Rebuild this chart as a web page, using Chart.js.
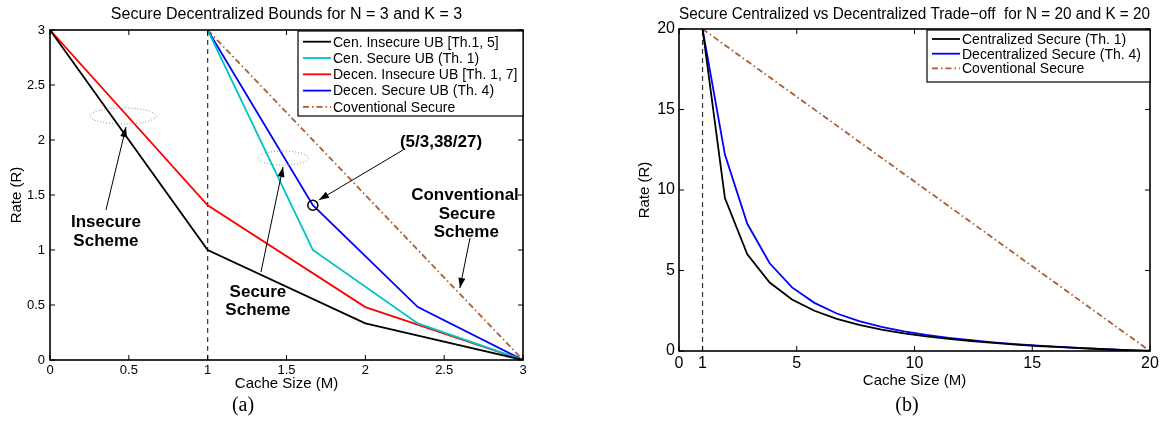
<!DOCTYPE html>
<html>
<head>
<meta charset="utf-8">
<script src="https://cdn.jsdelivr.net/npm/chart.js@4.4.1/dist/chart.umd.min.js"></script>
<style>
  body { margin: 0; background: #fff; width: 1167px; height: 443px; position: relative; overflow: hidden; }
  canvas { position: absolute; top: 0; }
  #chartA { left: 0; }
  #chartB { left: 600px; }
  .cap { position: absolute; top: 393px; font: 20px 'Liberation Serif', 'Times New Roman', serif; transform: translateX(-50%); }
</style>
</head>
<body>
<canvas id="chartA" width="580" height="443"></canvas>
<canvas id="chartB" width="567" height="443"></canvas>
<div class="cap" style="left:243px">(a)</div>
<div class="cap" style="left:907px">(b)</div>
<script>
const FONT = "'Liberation Sans', Arial, sans-serif";

// (a) N = 3, K = 3
const memA = [0, 1, 2, 3];
const memSecA = [1, 1.667, 2.333, 3];
const cenInsecureA = [3, 1, 0.333, 0];
const cenSecureA = [3, 1, 0.333, 0];
const decInsecureA = [3, 1.407, 0.481, 0];
const decSecureA = [3, 1.407, 0.481, 0];
const convMemA = [1, 3];
const convSecureA = [3, 0];
const markMem = [1, 1];
const markRateA = [0, 3];
const ticksA = [0, 0.5, 1, 1.5, 2, 2.5, 3];

// (b) N = 20, K = 20
const memB = [1, 1.95, 2.9, 3.85, 4.8, 5.75, 6.7, 7.65, 8.6, 9.55, 10.5,
              11.45, 12.4, 13.35, 14.3, 15.25, 16.2, 17.15, 18.1, 19.05, 20];
const cenSecureB = [20, 9.5, 6, 4.25, 3.2, 2.5, 2, 1.63, 1.33, 1.1, 0.91,
                    0.75, 0.62, 0.5, 0.4, 0.31, 0.24, 0.17, 0.11, 0.05, 0];
const decSecureB = [20, 12.2, 7.9, 5.45, 3.95, 2.99, 2.33, 1.86, 1.5, 1.22, 1.0,
                    0.82, 0.67, 0.54, 0.43, 0.33, 0.25, 0.18, 0.11, 0.05, 0];
const convMemB = [1, 20];
const convSecureB = [20, 0];
const markRateB = [0, 20];
const xTicksB = [0, 1, 5, 10, 15, 20];
const yTicksB = [0, 5, 10, 15, 20];

const BROWN = 'rgb(172,92,50)';
const DASHDOT = [6, 3, 1.5, 3];

function pts(xs, ys) {
  return xs.map((x, i) => ({ x: x, y: ys[i] }));
}

function line(label, xs, ys, color, dash, inLegend) {
  return {
    label: label,
    data: pts(xs, ys),
    showLine: true,
    borderColor: color,
    backgroundColor: color,
    borderWidth: dash && dash.length === 2 ? 1.2 : 1.8,
    borderDash: dash || [],
    pointRadius: 0,
    tension: 0,
    inLegend: inLegend !== false
  };
}

function arrow(ctx, x1, y1, x2, y2) {
  const a = Math.atan2(y2 - y1, x2 - x1);
  ctx.beginPath();
  ctx.moveTo(x1, y1);
  ctx.lineTo(x2, y2);
  ctx.stroke();
  ctx.beginPath();
  ctx.moveTo(x2, y2);
  ctx.lineTo(x2 - 10 * Math.cos(a) + 3.5 * Math.sin(a), y2 - 10 * Math.sin(a) - 3.5 * Math.cos(a));
  ctx.lineTo(x2 - 10 * Math.cos(a) - 3.5 * Math.sin(a), y2 - 10 * Math.sin(a) + 3.5 * Math.cos(a));
  ctx.closePath();
  ctx.fill();
}

// MATLAB style box with inward ticks on all four sides
const frame = {
  id: 'frame',
  afterDatasetsDraw(chart) {
    const { ctx, chartArea: a, scales } = chart;
    const len = 5;
    ctx.save();
    ctx.strokeStyle = '#000';
    ctx.lineWidth = 1;
    ctx.beginPath();
    scales.x.ticks.forEach(t => {
      const px = scales.x.getPixelForValue(t.value);
      ctx.moveTo(px, a.bottom); ctx.lineTo(px, a.bottom - len);
      ctx.moveTo(px, a.top); ctx.lineTo(px, a.top + len);
    });
    scales.y.ticks.forEach(t => {
      const py = scales.y.getPixelForValue(t.value);
      ctx.moveTo(a.left, py); ctx.lineTo(a.left + len, py);
      ctx.moveTo(a.right, py); ctx.lineTo(a.right - len, py);
    });
    ctx.stroke();
    ctx.lineWidth = 1.6;
    ctx.strokeRect(a.left, a.top, a.right - a.left, a.bottom - a.top);
    ctx.restore();
  }
};

// legend box in the upper right corner of the axes
const boxLegend = {
  id: 'boxLegend',
  afterDraw(chart, args, o) {
    const { ctx, chartArea: a } = chart;
    const left = a.right - o.width;
    const top = a.top + 1;
    ctx.save();
    ctx.fillStyle = '#fff';
    ctx.fillRect(left, top, o.width, o.height);
    ctx.strokeStyle = '#000';
    ctx.lineWidth = 1.2;
    ctx.strokeRect(left, top, o.width, o.height);
    ctx.font = o.size + 'px ' + FONT;
    ctx.textBaseline = 'middle';
    let y = top + o.first;
    chart.data.datasets.filter(d => d.inLegend).forEach(d => {
      ctx.strokeStyle = d.borderColor;
      ctx.lineWidth = d.borderWidth;
      ctx.setLineDash(d.borderDash);
      ctx.beginPath();
      ctx.moveTo(left + 5, y);
      ctx.lineTo(left + 33, y);
      ctx.stroke();
      ctx.setLineDash([]);
      ctx.fillStyle = '#000';
      ctx.fillText(d.label, left + 35, y + 1);
      y += o.gap;
    });
    ctx.restore();
  }
};

// callouts of panel (a), placed in data coordinates
const notesA = {
  id: 'notesA',
  afterDatasetsDraw(chart) {
    const { ctx, scales } = chart;
    const X = v => scales.x.getPixelForValue(v);
    const Y = v => scales.y.getPixelForValue(v);
    ctx.save();
    ctx.strokeStyle = '#888';
    ctx.lineWidth = 1;
    ctx.setLineDash([1, 2]);
    ctx.beginPath();
    ctx.ellipse(X(0.463), Y(2.218), 33, 8, 0, 0, 2 * Math.PI);
    ctx.stroke();
    ctx.beginPath();
    ctx.ellipse(X(1.478), Y(1.836), 25, 7, 0, 0, 2 * Math.PI);
    ctx.stroke();
    ctx.setLineDash([]);

    // circled point (5/3, 38/27) on the decentralized secure curve
    ctx.strokeStyle = '#000';
    ctx.fillStyle = '#000';
    ctx.lineWidth = 1.5;
    ctx.beginPath();
    ctx.arc(X(memSecA[1]), Y(decSecureA[1]), 5, 0, 2 * Math.PI);
    ctx.stroke();

    ctx.lineWidth = 1;
    arrow(ctx, X(0.355), Y(1.364), X(0.482), Y(2.118));
    arrow(ctx, X(1.338), Y(0.8), X(1.478), Y(1.755));
    arrow(ctx, X(2.239), Y(1.909), X(1.706), Y(1.455));
    arrow(ctx, X(2.664), Y(1.109), X(2.6), Y(0.655));

    ctx.font = 'bold 17px ' + FONT;
    ctx.textAlign = 'center';
    ctx.textBaseline = 'middle';
    ctx.fillText('Insecure', X(0.355), Y(1.255));
    ctx.fillText('Scheme', X(0.355), Y(1.082));
    ctx.fillText('Secure', X(1.319), Y(0.618));
    ctx.fillText('Scheme', X(1.319), Y(0.455));
    ctx.fillText('(5/3,38/27)', X(2.48), Y(1.982));
    ctx.fillText('Conventional', X(2.632), Y(1.5));
    ctx.fillText('Secure', X(2.645), Y(1.327));
    ctx.fillText('Scheme', X(2.64), Y(1.164));
    ctx.restore();
  }
};

function tickFont(size) {
  return { family: FONT, size: size };
}

const plain = v => String(v);

new Chart(document.getElementById('chartA'), {
  type: 'scatter',
  data: {
    datasets: [
      line('Cen. Insecure UB [Th.1, 5]', memA, cenInsecureA, '#000'),
      line('Cen. Secure UB (Th. 1)', memSecA, cenSecureA, '#00c4c4'),
      line('Decen. Insecure UB [Th. 1, 7]', memA, decInsecureA, '#ff0000'),
      line('Decen. Secure UB (Th. 4)', memSecA, decSecureA, '#0000ff'),
      line('Coventional Secure', convMemA, convSecureA, BROWN, DASHDOT),
      line('_mark', markMem, markRateA, '#333', [5, 4], false)
    ]
  },
  options: {
    responsive: false,
    animation: false,
    layout: { padding: { left: 0, right: 57, top: 0, bottom: 0 } },
    plugins: {
      legend: { display: false },
      tooltip: { enabled: false },
      title: {
        display: true,
        fullSize: false,
        text: 'Secure Decentralized Bounds for N = 3 and K = 3',
        color: '#000',
        font: { family: FONT, size: 16, weight: 'normal' },
        padding: { top: 5, bottom: 5.8 }
      },
      boxLegend: { width: 225, height: 85, first: 10.7, gap: 16.3, size: 14 }
    },
    scales: {
      x: {
        type: 'linear', min: 0, max: 3,
        afterBuildTicks: s => { s.ticks = ticksA.map(v => ({ value: v })); },
        afterFit: s => { s.height = 83; },
        grid: { display: false, drawTicks: false },
        border: { display: false },
        ticks: { color: '#000', font: tickFont(13), padding: 3, maxRotation: 0, callback: plain },
        title: { display: true, text: 'Cache Size (M)', color: '#000', font: tickFont(15), padding: { top: 0, bottom: 50 } }
      },
      y: {
        type: 'linear', min: 0, max: 3,
        afterBuildTicks: s => { s.ticks = ticksA.map(v => ({ value: v })); },
        afterFit: s => { s.width = 50; },
        grid: { display: false, drawTicks: false },
        border: { display: false },
        ticks: { color: '#000', font: tickFont(13), padding: 5, callback: plain },
        title: { display: true, text: 'Rate (R)', color: '#000', font: tickFont(15), padding: { top: 8, bottom: 0 } }
      }
    }
  },
  plugins: [frame, boxLegend, notesA]
});

new Chart(document.getElementById('chartB'), {
  type: 'scatter',
  data: {
    datasets: [
      line('Centralized Secure (Th. 1)', memB, cenSecureB, '#000'),
      line('Decentralized Secure (Th. 4)', memB, decSecureB, '#0000ff'),
      line('Coventional Secure', convMemB, convSecureB, BROWN, DASHDOT),
      line('_mark', markMem, markRateB, '#333', [5, 4], false)
    ]
  },
  options: {
    responsive: false,
    animation: false,
    layout: { padding: { left: 0, right: 17, top: 0, bottom: 0 } },
    plugins: {
      legend: { display: false },
      tooltip: { enabled: false },
      title: {
        display: true,
        fullSize: false,
        text: 'Secure Centralized vs Decentralized Trade\u2212off  for N = 20 and K = 20',
        color: '#000',
        font: { family: FONT, size: 16, weight: 'normal' },
        padding: { top: 5, bottom: 4.8 }
      },
      boxLegend: { width: 223, height: 52, first: 9, gap: 14.7, size: 14 }
    },
    scales: {
      x: {
        type: 'linear', min: 0, max: 20,
        afterBuildTicks: s => { s.ticks = xTicksB.map(v => ({ value: v })); },
        afterFit: s => { s.height = 92; },
        grid: { display: false, drawTicks: false },
        border: { display: false },
        ticks: { color: '#000', font: tickFont(16), padding: 3, maxRotation: 0, autoSkip: false, callback: plain },
        title: { display: true, text: 'Cache Size (M)', color: '#000', font: tickFont(15), padding: { top: 0, bottom: 53 } }
      },
      y: {
        type: 'linear', min: 0, max: 20,
        afterBuildTicks: s => { s.ticks = yTicksB.map(v => ({ value: v })); },
        afterFit: s => { s.width = 79; },
        grid: { display: false, drawTicks: false },
        border: { display: false },
        ticks: { color: '#000', font: tickFont(16), padding: 4, callback: plain },
        title: { display: true, text: 'Rate (R)', color: '#000', font: tickFont(15), padding: { top: 36, bottom: 0 } }
      }
    }
  },
  plugins: [frame, boxLegend]
});
</script>
</body>
</html>
